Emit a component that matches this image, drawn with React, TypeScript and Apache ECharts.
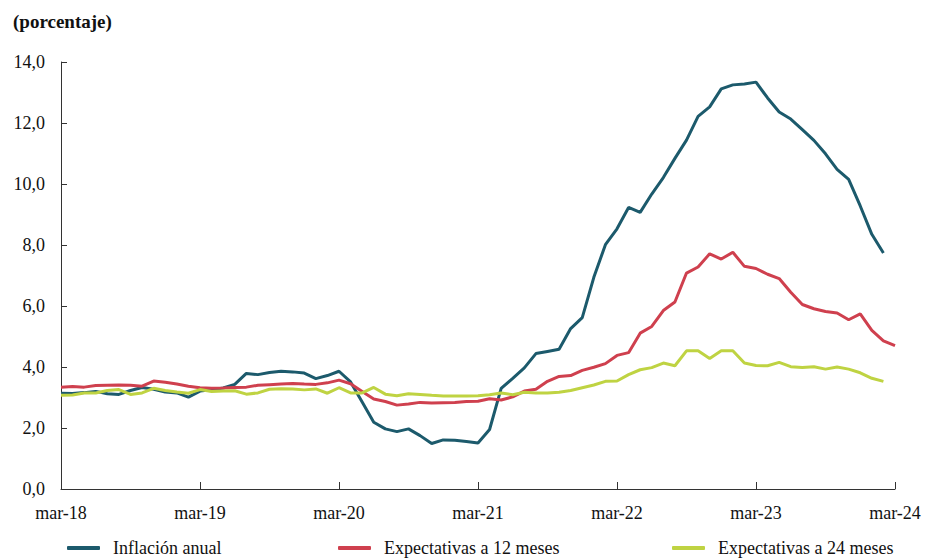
import React, { useEffect, useRef } from "react";
import * as echarts from "echarts";

const monthNames = ["ene", "feb", "mar", "abr", "may", "jun", "jul", "ago", "sep", "oct", "nov", "dic"];
const startYear = 2018;
const startMonth = 2; // marzo
const nMonths = 73; // mar-18 .. mar-24

const categories: string[] = [];
for (let k = 0; k < nMonths; k++) {
  const m = (startMonth + k) % 12;
  const y = startYear + Math.floor((startMonth + k) / 12);
  categories.push(`${monthNames[m]}-${String(y).slice(2)}`);
}

const inflacion: (number | null)[] = [
  3.14, 3.13, 3.16, 3.20, 3.12, 3.10, 3.23, 3.33, 3.27, 3.18, 3.15, 3.01,
  3.21, 3.25, 3.31, 3.43, 3.79, 3.75, 3.82, 3.86, 3.84, 3.80, 3.62, 3.72,
  3.86, 3.51, 2.85, 2.19, 1.97, 1.88, 1.97, 1.75, 1.49, 1.61, 1.60, 1.56,
  1.51, 1.95, 3.30, 3.63, 3.97, 4.44, 4.51, 4.58, 5.26, 5.62, 6.94, 8.01,
  8.53, 9.23, 9.07, 9.67, 10.21, 10.84, 11.44, 12.22, 12.53, 13.12, 13.25, 13.28,
  13.34, 12.82, 12.36, 12.13, 11.78, 11.43, 10.99, 10.48, 10.15, 9.28, 8.35, 7.74,
  null,
];

const expectativas12: (number | null)[] = [
  3.34, 3.36, 3.34, 3.39, 3.40, 3.41, 3.40, 3.37, 3.54, 3.50, 3.44, 3.37,
  3.32, 3.30, 3.31, 3.33, 3.34, 3.40, 3.42, 3.44, 3.46, 3.44, 3.43, 3.48,
  3.57, 3.45, 3.20, 2.95, 2.87, 2.75, 2.79, 2.84, 2.82, 2.83, 2.84, 2.87,
  2.88, 2.96, 2.92, 3.02, 3.21, 3.27, 3.53, 3.69, 3.72, 3.89, 3.99, 4.11,
  4.38, 4.47, 5.11, 5.33, 5.85, 6.13, 7.08, 7.28, 7.71, 7.54, 7.76, 7.30,
  7.23, 7.04, 6.90, 6.45, 6.05, 5.91, 5.82, 5.77, 5.55, 5.74, 5.20, 4.86,
  4.70,
];

const expectativas24: (number | null)[] = [
  3.07, 3.08, 3.15, 3.15, 3.23, 3.26, 3.10, 3.15, 3.30, 3.23, 3.18, 3.14,
  3.26, 3.20, 3.21, 3.22, 3.11, 3.15, 3.27, 3.29, 3.28, 3.25, 3.28, 3.14,
  3.32, 3.15, 3.15, 3.33, 3.11, 3.06, 3.12, 3.10, 3.07, 3.05, 3.05, 3.05,
  3.06, 3.09, 3.15, 3.09, 3.17, 3.15, 3.15, 3.17, 3.23, 3.32, 3.41, 3.53,
  3.54, 3.75, 3.91, 3.98, 4.13, 4.04, 4.53, 4.53, 4.28, 4.53, 4.53, 4.13,
  4.05, 4.04, 4.15, 4.01, 3.98, 4.01, 3.93, 4.00, 3.93, 3.81, 3.63, 3.53,
  null,
];

const seriesNames = ["Inflación anual", "Expectativas a 12 meses", "Expectativas a 24 meses"];
const seriesColors = ["#1c5a6c", "#cf404e", "#bfd342"];
const seriesData = [inflacion, expectativas12, expectativas24];
const legendLefts = [67, 338, 672];

const FONT = "Liberation Serif";

export default function App() {
  const ref = useRef<HTMLDivElement>(null);
  useEffect(() => {
    if (!ref.current) return;
    const chart = echarts.init(ref.current, undefined, { renderer: "svg" });
    chart.setOption({
      animation: false,
      backgroundColor: "#ffffff",
      textStyle: { fontFamily: FONT },
      title: {
        text: "(porcentaje)",
        left: 8,
        top: 7,
        textStyle: { fontFamily: FONT, fontSize: 19, fontWeight: "bold", color: "#111" },
      },
      legend: seriesNames.map((n, i) => ({
        data: [n],
        left: legendLefts[i],
        top: 539,
        padding: 0,
        icon: "roundRect",
        itemWidth: 33,
        itemHeight: 4,
        itemGap: 12,
        textStyle: { fontFamily: FONT, fontSize: 18, color: "#111", padding: [0, 0, 0, 8] },
      })),
      grid: { left: 61, right: 31, top: 62, bottom: 69, containLabel: false },
      xAxis: {
        type: "category",
        data: categories,
        boundaryGap: false,
        axisLine: { lineStyle: { color: "#333", width: 1 } },
        axisTick: { inside: true, length: 7, interval: 11, lineStyle: { color: "#333" } },
        axisLabel: { interval: 11, margin: 15, fontFamily: FONT, fontSize: 18, color: "#111" },
        splitLine: { show: false },
      },
      yAxis: {
        type: "value",
        min: 0,
        max: 14,
        interval: 2,
        axisLine: { show: true, lineStyle: { color: "#333", width: 1 } },
        axisTick: { show: true, inside: true, length: 6, lineStyle: { color: "#333" } },
        axisLabel: {
          margin: 16,
          fontFamily: FONT,
          fontSize: 18,
          color: "#111",
          formatter: (v: number) => v.toFixed(1).replace(".", ","),
        },
        splitLine: { show: false },
      },
      series: seriesNames.map((n, i) => ({
        name: n,
        type: "line",
        data: seriesData[i],
        symbol: "none",
        showSymbol: false,
        lineStyle: { color: seriesColors[i], width: 3 },
        itemStyle: { color: seriesColors[i] },
        connectNulls: false,
      })),
    });
    return () => chart.dispose();
  }, []);
  return (
    <div
      ref={ref}
      style={{ position: "fixed", left: 0, top: 0, width: 926, height: 558, background: "#fff" }}
    />
  );
}
